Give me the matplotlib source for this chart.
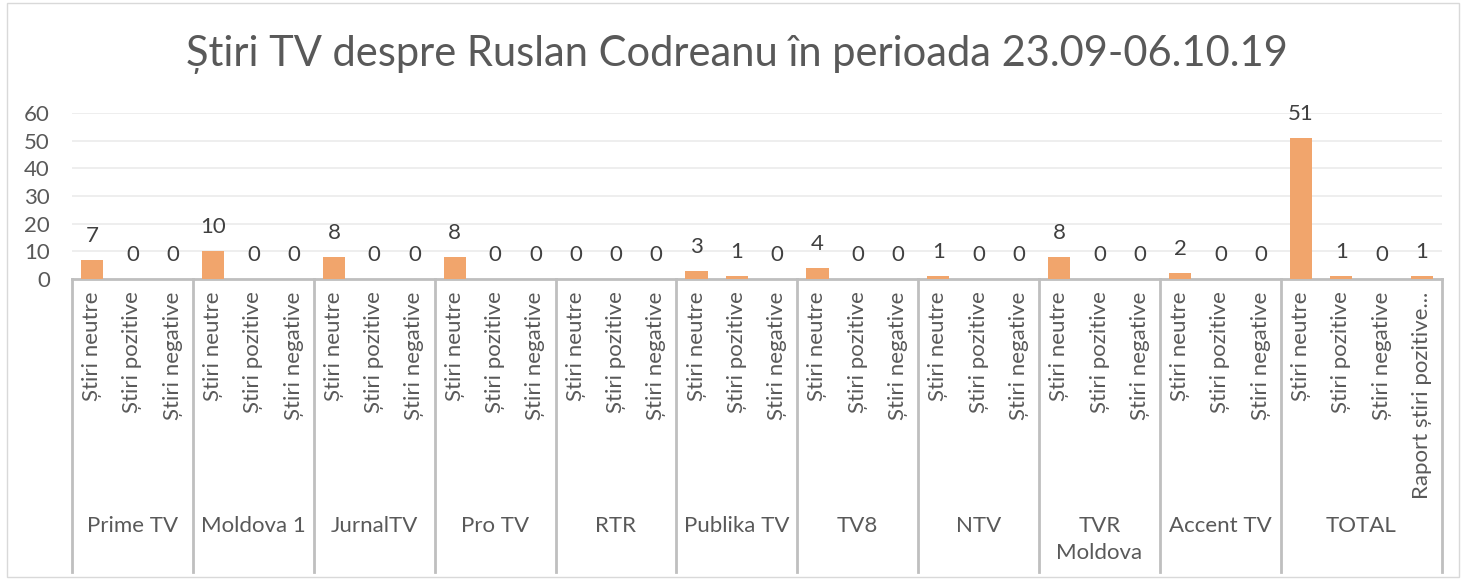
import matplotlib.pyplot as plt
from matplotlib.patches import Rectangle
import matplotlib.transforms as mtransforms

plt.rcParams['font.family'] = ['Lato', 'DejaVu Sans']

channels = ['Prime TV', 'Moldova 1', 'JurnalTV', 'Pro TV', 'RTR', 'Publika TV',
            'TV8', 'NTV', 'TVR\nMoldova', 'Accent TV', 'TOTAL']
sub_labels = ['Știri neutre', 'Știri pozitive', 'Știri negative']
total_extra = 'Raport știri pozitive...'

values = [7, 0, 0,
          10, 0, 0,
          8, 0, 0,
          8, 0, 0,
          0, 0, 0,
          3, 1, 0,
          4, 0, 0,
          1, 0, 0,
          8, 0, 0,
          2, 0, 0,
          51, 1, 0, 1]

labels = sub_labels * (len(channels)) + [total_extra]
group_sizes = [3] * (len(channels) - 1) + [4]

txt = '#595959'
bar_col = '#F1A56C'
W, H = 1463, 579

fig = plt.figure(figsize=(W / 100, H / 100), dpi=100)
# chart border
fig.patches.append(Rectangle((7 / W, 2 / H), (1459 - 7) / W, (576 - 2) / H,
                             transform=fig.transFigure, fill=False,
                             edgecolor='#D9D9D9', linewidth=1))

ax = fig.add_axes([72 / W, 1 - 279 / H, (1442 - 72) / W, (279 - 113) / H])
x = list(range(len(values)))
ax.bar(x, values, width=0.55, color=bar_col, zorder=3)
ax.set_xlim(-0.5, len(values) - 0.5)
ax.set_ylim(0, 60)
ax.set_yticks(range(0, 61, 10))
ax.tick_params(axis='y', length=0, labelsize=16, labelcolor=txt, pad=16)
ax.grid(axis='y', color='#EBEBEB', linewidth=1.2, zorder=0)
for s in ['top', 'right', 'left']:
    ax.spines[s].set_visible(False)
ax.spines['bottom'].set_color('#BFBFBF')
ax.spines['bottom'].set_linewidth(2)

ax.set_xticks(x)
ax.set_xticklabels(labels, rotation=90, fontsize=16, color=txt)
ax.tick_params(axis='x', length=0, pad=9)

for xi, v in zip(x, values):
    ax.annotate(str(v), (xi, v), xytext=(0, 13), textcoords='offset points',
                ha='center', va='baseline', fontsize=16, color='#404040')

trans = mtransforms.blended_transform_factory(ax.transData, ax.transAxes)
bottom = -(572 - 279) / (279 - 113)
start = -0.5
for name, n in zip(channels, group_sizes):
    ax.plot([start, start], [0, bottom], transform=trans, color='#BFBFBF',
            linewidth=2, clip_on=False)
    ax.text(start + n / 2, -(516 - 279) / (279 - 113), name, transform=trans,
            ha='center', va='top', fontsize=16, color=txt,
            linespacing=1.45)
    start += n
ax.plot([start, start], [0, bottom], transform=trans, color='#BFBFBF',
        linewidth=2, clip_on=False)

fig.text(737 / W, 1 - 55 / H, 'Știri TV despre Ruslan Codreanu în perioada 23.09-06.10.19',
         ha='center', va='center', fontsize=30, color=txt)

fig.savefig('out.png', dpi=100)
